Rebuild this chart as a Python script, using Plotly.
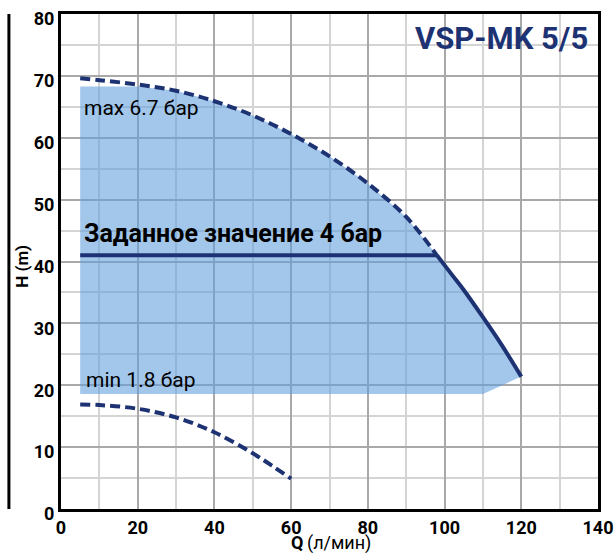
import plotly.graph_objects as go

# ---- data ----
max_Q = [5, 10, 20, 30, 40, 50, 60, 70, 80, 90, 98]
max_H = [69.6, 69.3, 68.6, 67.6, 65.9, 63.6, 60.6, 57.0, 52.6, 47.2, 41.0]

work_Q = [98, 102, 105, 110, 115, 120]
work_H = [41.0, 37.8, 35.4, 31.0, 26.4, 21.4]

min_Q = [5, 10, 20, 30, 40, 50, 55, 60]
min_H = [16.9, 16.8, 16.2, 14.8, 12.4, 9.0, 7.0, 4.9]

set_Q = [5, 98]
set_H = [41, 41]

area_top_H = 68.3
area_bottom_H = 18.6
area_corner_Q = 110

x_ticks = [0, 20, 40, 60, 80, 100, 120, 140]
y_ticks = [0, 10, 20, 30, 40, 50, 60, 70, 80]

NAVY = "#1d3272"
FONT = "Roboto, Liberation Sans, sans-serif"

# ---- build area polygon from the curves ----
poly_x = [max_Q[0]] + [q for q in max_Q] + work_Q[1:] + [area_corner_Q, max_Q[0], max_Q[0]]
poly_y = [area_bottom_H] + [min(h, area_top_H) for h in max_H] + work_H[1:] + [area_bottom_H, area_bottom_H, area_bottom_H]

fig = go.Figure()
fig.add_trace(go.Scatter(x=poly_x, y=poly_y, fill="toself", mode="none",
                         fillcolor="rgba(95,158,220,0.58)", hoverinfo="skip"))
fig.add_trace(go.Scatter(x=max_Q, y=max_H, mode="lines", line_shape="spline",
                         line=dict(color=NAVY, width=4, dash="10px,5px")))
fig.add_trace(go.Scatter(x=min_Q, y=min_H, mode="lines", line_shape="spline",
                         line=dict(color=NAVY, width=4, dash="10px,5px")))
fig.add_trace(go.Scatter(x=work_Q, y=work_H, mode="lines", line_shape="spline",
                         line=dict(color=NAVY, width=4)))
fig.add_trace(go.Scatter(x=set_Q, y=set_H, mode="lines",
                         line=dict(color=NAVY, width=4)))

fig.update_layout(
    width=614, height=554,
    margin=dict(l=61, r=16, t=14, b=45, autoexpand=False),
    paper_bgcolor="white", plot_bgcolor="white",
    showlegend=False,
    font=dict(family=FONT, color="black"),
)
fig.update_xaxes(
    range=[0, 140], tickvals=x_ticks, ticktext=[f"<b>{v}</b>" for v in x_ticks],
    showgrid=True, gridcolor="#a9a9a9", gridwidth=1.5,
    minor=dict(dtick=10, showgrid=True, gridcolor="#d4d4d4", gridwidth=1.5, tick0=0),
    showline=True, linewidth=3, linecolor="black", mirror=True,
    zeroline=False, ticks="", tickfont=dict(size=18, family=FONT),
    automargin=False,
)
fig.update_yaxes(
    range=[0, 80], tickvals=y_ticks, ticktext=[f"<b>{v}</b>" for v in y_ticks],
    showgrid=True, gridcolor="#a9a9a9", gridwidth=1.5,
    minor=dict(dtick=5, showgrid=True, gridcolor="#d4d4d4", gridwidth=1.5, tick0=0),
    showline=True, linewidth=3, linecolor="black", mirror=True,
    zeroline=False, ticks="", tickfont=dict(size=18, family=FONT),
    automargin=False, ticklabeloverflow="allow", ticklabelshift=5,
)

# decorative vertical line left of the y labels
fig.add_shape(type="line", xref="paper", yref="paper", x0=-0.097, x1=-0.097,
              y0=0.0, y1=1.0, line=dict(color="black", width=3))

fig.add_annotation(text="<b>VSP-MK 5/5</b>", xref="paper", yref="paper",
                   x=0.985, y=0.951, xanchor="right", yanchor="middle",
                   showarrow=False, font=dict(size=31, color=NAVY, family=FONT))
fig.add_annotation(text="max 6.7 бар", x=5.5, y=64.8, xanchor="left", yanchor="middle",
                   showarrow=False, font=dict(size=21, color="black", family=FONT))
fig.add_annotation(text="<b>Заданное значение 4 бар</b>", x=5.5, y=44.6,
                   xanchor="left", yanchor="middle",
                   showarrow=False, font=dict(size=25, color="black", family=FONT))
fig.add_annotation(text="min 1.8 бар", x=6.0, y=20.8, xanchor="left", yanchor="middle",
                   showarrow=False, font=dict(size=21, color="black", family=FONT))

fig.add_annotation(text="<b>H (m)</b>", xref="paper", yref="paper",
                   x=-0.072, y=0.49, textangle=-90, xanchor="center", yanchor="middle",
                   showarrow=False, font=dict(size=17, family=FONT))
fig.add_annotation(text="<b>Q</b>", xref="paper", yref="paper",
                   x=0.4545, y=-0.068, xanchor="right", yanchor="middle",
                   showarrow=False, font=dict(size=18, family=FONT))
fig.add_annotation(text="(л/мин)", xref="paper", yref="paper",
                   x=0.4545, y=-0.068, xanchor="left", yanchor="middle",
                   showarrow=False, font=dict(size=18, family=FONT))

fig.write_html("out.html", config={"displayModeBar": False},
               post_script="document.body.style.margin='0';document.body.style.overflow='hidden';")
